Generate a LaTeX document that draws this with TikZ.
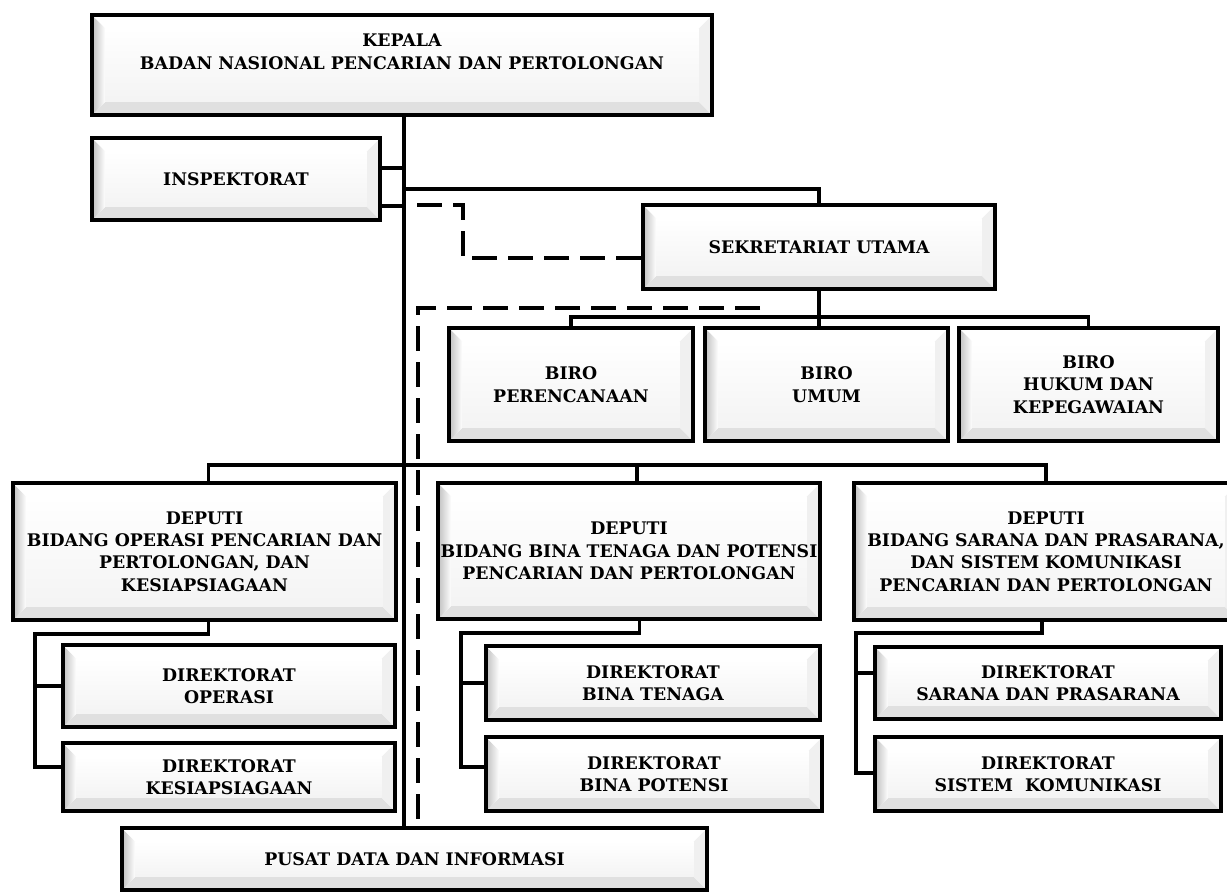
\documentclass[tikz,border=0pt]{standalone}
\usepackage{fontspec}
\setmainfont{DejaVu Serif}
\usetikzlibrary{calc,shadows}
\tikzset{
  bevel/.style={path picture={
    \path (path picture bounding box.south west) coordinate (bvA)
          (path picture bounding box.south east) coordinate (bvB)
          (path picture bounding box.north east) coordinate (bvC)
          (path picture bounding box.north west) coordinate (bvD);
    \path ([shift={(10pt,10pt)}]bvA) coordinate (bvE)
          ([shift={(-10pt,10pt)}]bvB) coordinate (bvF)
          ([shift={(-10pt,-10pt)}]bvC) coordinate (bvG)
          ([shift={(10pt,-10pt)}]bvD) coordinate (bvH);
    \fill[gray!24] (bvA) -- (bvB) -- (bvF) -- (bvE) -- cycle;
    \fill[gray!12] (bvB) -- (bvC) -- (bvG) -- (bvF) -- cycle;
    \shade[left color=gray!50, right color=white] (bvA) -- (bvD) -- (bvH) -- (bvE) -- cycle;
    \fill[white] (bvD) -- (bvC) -- (bvG) -- (bvH) -- cycle;
    \shade[top color=white, bottom color=gray!9] (bvE) rectangle (bvG);
  }},
  obox/.style={draw=black, line width=3pt, fill=white, inner sep=0pt,
    align=center, font=\fontsize{13}{16.8}\selectfont\bfseries, bevel,
    drop shadow={shadow xshift=1.8pt, shadow yshift=-1.8pt, opacity=0.35, fill=black}},
  conn/.style={draw=black, line width=2.5pt},
  dsh/.style={draw=black, line width=2.5pt, dash pattern=on 19pt off 8pt}
}
\newcommand\obx[6]{\node[obox, minimum width=#4*0.75pt, minimum height=#5*0.75pt] (#1) at (#2,#3) {#6};}
\begin{document}
\begin{tikzpicture}[x=0.75pt,y=-0.75pt]
\useasboundingbox (0,0) rectangle (1227,892);
\fill[white] (0,0) rectangle (1227,892);
% boxes
\obx{kepala}{402}{65}{620}{100}{KEPALA\\BADAN NASIONAL PENCARIAN DAN PERTOLONGAN\\[3pt]}
\obx{insp}{236}{179}{288}{82}{INSPEKTORAT}
\obx{sekr}{819}{247}{352}{84}{SEKRETARIAT UTAMA}
\obx{biroA}{571}{384.5}{244}{113}{BIRO\\PERENCANAAN}
\obx{biroB}{826.5}{384.5}{243}{113}{BIRO\\UMUM}
\obx{biroC}{1088.5}{384.5}{259}{113}{BIRO\\HUKUM DAN\\KEPEGAWAIAN}
\obx{depA}{204.5}{551.5}{383}{137}{DEPUTI\\BIDANG OPERASI PENCARIAN DAN\\PERTOLONGAN, DAN\\KESIAPSIAGAAN}
\obx{depB}{629}{551}{382}{136}{DEPUTI\\BIDANG BINA TENAGA DAN POTENSI\\PENCARIAN DAN PERTOLONGAN}
\obx{depC}{1046}{551.5}{384}{137}{DEPUTI\\BIDANG SARANA DAN PRASARANA,\\DAN SISTEM KOMUNIKASI\\PENCARIAN DAN PERTOLONGAN}
\obx{dirA}{229}{686}{332}{82}{DIREKTORAT\\OPERASI}
\obx{dirB}{229}{777}{332}{68}{DIREKTORAT\\KESIAPSIAGAAN}
\obx{dirC}{653}{683}{334}{74}{DIREKTORAT\\BINA TENAGA}
\obx{dirD}{654}{774}{336}{74}{DIREKTORAT\\BINA POTENSI}
\obx{dirE}{1048}{683}{346}{72}{DIREKTORAT\\SARANA DAN PRASARANA}
\obx{dirF}{1048}{774}{346}{74}{DIREKTORAT\\SISTEM~~KOMUNIKASI}
\obx{pusat}{414.5}{859}{585}{62}{PUSAT DATA DAN INFORMASI}
% connectors
\coordinate (tr) at (404,115);
\draw[conn] (tr) -- (tr |- pusat.north);
\draw[conn] (insp.east |- 0,168) -- (tr |- 0,168);
\draw[conn] (insp.east |- 0,206) -- (tr |- 0,206);
\draw[conn] (tr |- 0,189) -| (sekr.north);
\draw[conn] (sekr.south) -- (sekr.south |- biroB.north);
\draw[conn] (biroA.north) -- (biroA.north |- 0,317) -- (biroC.north |- 0,317) -- (biroC.north);
\draw[conn] ([xshift=3pt]depA.north) -- ([xshift=3pt]depA.north |- 0,465) -- (depC.north |- 0,465) -- (depC.north);
\draw[conn] ([xshift=6pt]depB.north) -- ([xshift=6pt]depB.north |- 0,465);
\draw[conn] ([xshift=3pt]depA.south) |- (35,634) |- (dirB.west |- 0,767);
\draw[conn] (dirA.west -| 35,0) -- (dirA.west);
\draw[conn] ([xshift=8pt]depB.south) |- (461,633) |- (dirD.west |- 0,767);
\draw[conn] (dirC.west -| 461,0) -- (dirC.west);
\draw[conn] ([xshift=-3pt]depC.south) |- (856,633) |- (dirF.west |- 0,773);
\draw[conn] (856,673) -- (dirE.west |- 0,673);
% dashed
\draw[dsh] (417,205) -| (463,258) -- (sekr.west |- 0,258);
\draw[dsh] (760,308) -| (pusat.north -| 418,0);
\end{tikzpicture}
\end{document}
